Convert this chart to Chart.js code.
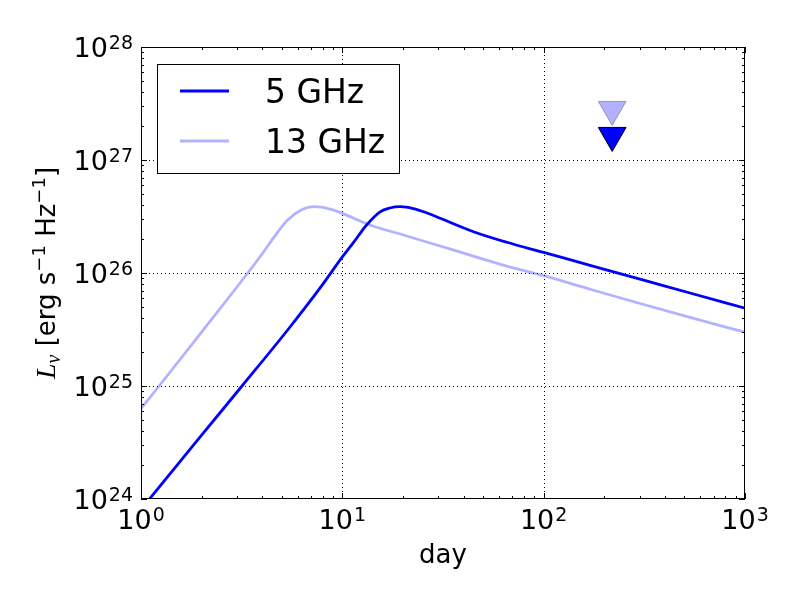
<!DOCTYPE html>
<html lang="en">
<head>
<meta charset="UTF-8">
<title>Radio light curves</title>
<script src="https://cdn.jsdelivr.net/npm/chart.js"></script>
<style>
  body { margin: 0; background: #fff; }
  canvas { display: block; }
</style>
</head>
<body>
<canvas id="lcChart" width="800" height="600"></canvas>
<script>
// light curve values (day, erg/s/Hz)
const days5 = [1, 2, 3.16, 5.35, 7.84, 10, 11.35, 13.2, 15.4, 17.2, 19.4, 22.5, 26, 30.6, 44.8, 65.6, 100, 170, 301, 533, 1000];
const lum5 = [8.1e23, 3.67e24, 9.9e24, 3.13e25, 7.57e25, 1.39e26, 1.86e26, 2.66e26, 3.48e26, 3.76e26, 3.86e26, 3.72e26, 3.43e26, 3.05e26, 2.32e26, 1.87e26, 1.52e26, 1.17e26, 8.83e25, 6.65e25, 4.88e25];

const days13 = [1, 1.23, 2, 3.39, 4, 4.59, 5.35, 6.24, 7.26, 8.69, 10, 13.7, 20.1, 29.4, 43.1, 65.6, 100, 170, 301, 533, 1000];
const lum13 = [6.3e24, 1.0e25, 3.0e25, 1.0e26, 1.48e26, 2.09e26, 2.94e26, 3.61e26, 3.86e26, 3.68e26, 3.37e26, 2.66e26, 2.17e26, 1.77e26, 1.44e26, 1.15e26, 9.46e25, 7.18e25, 5.37e25, 4.05e25, 2.99e25];

// upper limits
const limitDays = [219];
const limit5 = [1.65e27];
const limit13 = [2.8e27];

const seriesNames = ['5 GHz', '13 GHz'];
const xTickExps = [0, 1, 2, 3];
const yTickExps = [24, 25, 26, 27, 28];

const DARK = '#0000ff';
const LIGHT = 'rgba(0,0,255,0.3)';
const SANS = '"DejaVu Sans"';
const SERIF = '"Liberation Serif"';

function pts(xs, ys) {
    return xs.map((d, i) => ({ x: d, y: ys[i] }));
}

// "10" with a raised exponent
function powLabel(ctx, exp, x, y, align) {
    ctx.font = '27px ' + SANS;
    const wb = ctx.measureText('10').width;
    ctx.font = '19px ' + SANS;
    const ws = ctx.measureText(String(exp)).width;
    const w = wb + 1 + ws;
    const left = align === 'center' ? x - w / 2 : x - w;
    ctx.font = '27px ' + SANS;
    ctx.fillText('10', left, y);
    ctx.font = '19px ' + SANS;
    ctx.fillText(String(exp), left + wb + 1, y - 8);
}

function drawRuns(ctx, runs, cx, cy) {
    let total = 0;
    runs.forEach(r => { ctx.font = r.font; r.w = ctx.measureText(r.t).width; total += r.w; });
    let px = cx - total / 2;
    runs.forEach(r => {
        ctx.font = r.font;
        ctx.fillText(r.t, px, cy + (r.dy || 0));
        px += r.w;
    });
}

const decor = {
    id: 'decor',
    beforeDatasetsDraw(chart) {
        const { ctx, chartArea: a, scales: { x, y } } = chart;
        ctx.save();
        ctx.strokeStyle = '#000';
        ctx.lineWidth = 1;
        ctx.setLineDash([1, 3]);
        xTickExps.slice(1, -1).forEach(e => {
            const px = Math.round(x.getPixelForValue(Math.pow(10, e))) + 0.5;
            ctx.beginPath(); ctx.moveTo(px, a.top); ctx.lineTo(px, a.bottom); ctx.stroke();
        });
        yTickExps.slice(1, -1).forEach(e => {
            const py = Math.round(y.getPixelForValue(Math.pow(10, e))) + 0.5;
            ctx.beginPath(); ctx.moveTo(a.left, py); ctx.lineTo(a.right, py); ctx.stroke();
        });
        ctx.restore();
    },
    afterDatasetsDraw(chart) {
        const { ctx, chartArea: a, scales: { x, y } } = chart;
        ctx.save();
        ctx.strokeStyle = '#000';
        ctx.fillStyle = '#000';
        ctx.lineWidth = 1;

        // tick marks, inward, all four sides
        const tick = (px, len, vertical) => {
            ctx.beginPath();
            if (vertical) {
                ctx.moveTo(px, a.bottom); ctx.lineTo(px, a.bottom - len);
                ctx.moveTo(px, a.top); ctx.lineTo(px, a.top + len);
            } else {
                ctx.moveTo(a.left, px); ctx.lineTo(a.left + len, px);
                ctx.moveTo(a.right, px); ctx.lineTo(a.right - len, px);
            }
            ctx.stroke();
        };
        xTickExps.forEach((e, i) => {
            tick(Math.round(x.getPixelForValue(Math.pow(10, e))) + 0.5, 6, true);
            if (i < xTickExps.length - 1) {
                for (let k = 2; k < 10; k++) tick(Math.round(x.getPixelForValue(k * Math.pow(10, e))) + 0.5, 3, true);
            }
        });
        yTickExps.forEach((e, i) => {
            tick(Math.round(y.getPixelForValue(Math.pow(10, e))) + 0.5, 6, false);
            if (i < yTickExps.length - 1) {
                for (let k = 2; k < 10; k++) tick(Math.round(y.getPixelForValue(k * Math.pow(10, e))) + 0.5, 3, false);
            }
        });

        // frame
        ctx.strokeRect(a.left + 0.5, a.top + 0.5, a.right - a.left - 1, a.bottom - a.top - 1);

        // tick labels
        ctx.textBaseline = 'alphabetic';
        ctx.textAlign = 'left';
        xTickExps.forEach(e => powLabel(ctx, e, x.getPixelForValue(Math.pow(10, e)), a.bottom + 30, 'center'));
        yTickExps.forEach(e => powLabel(ctx, e, a.left - 8, y.getPixelForValue(Math.pow(10, e)) + 9.5, 'right'));

        // axis titles
        ctx.font = '26px ' + SANS;
        ctx.textAlign = 'center';
        ctx.fillText('day', (a.left + a.right) / 2, 563);
        ctx.textAlign = 'left';

        ctx.save();
        ctx.translate(55, (a.top + a.bottom) / 2);
        ctx.rotate(-Math.PI / 2);
        drawRuns(ctx, [
            { t: 'L', font: 'italic 28px ' + SERIF },
            { t: 'ν', font: 'italic 20px ' + SERIF, dy: 5 },
            { t: ' [erg s', font: '26px ' + SANS },
            { t: '−1', font: '18px ' + SANS, dy: -10 },
            { t: ' Hz', font: '26px ' + SANS },
            { t: '−1', font: '18px ' + SANS, dy: -10 },
            { t: ']', font: '26px ' + SANS }
        ], 0, 0);
        ctx.restore();

        // legend
        ctx.fillStyle = '#fff';
        ctx.fillRect(157.5, 64.5, 242, 109);
        ctx.strokeStyle = '#000';
        ctx.strokeRect(157.5, 64.5, 242, 109);
        const lineCols = [DARK, LIGHT];
        seriesNames.forEach((name, i) => {
            const ly = 91 + i * 50;
            ctx.strokeStyle = lineCols[i];
            ctx.lineWidth = 2.8;
            ctx.beginPath(); ctx.moveTo(180, ly); ctx.lineTo(229, ly); ctx.stroke();
            ctx.fillStyle = '#000';
            ctx.font = '33px ' + SANS;
            ctx.fillText(name, 265, ly + 11.5);
        });
        ctx.restore();
    }
};

new Chart(document.getElementById('lcChart'), {
    type: 'line',
    data: {
        datasets: [
            {
                label: '5 GHz limit',
                data: pts(limitDays, limit5),
                showLine: false,
                pointStyle: 'triangle',
                rotation: 180,
                pointRadius: 16,
                backgroundColor: DARK,
                borderColor: '#000',
                borderWidth: 1
            },
            {
                label: '13 GHz limit',
                data: pts(limitDays, limit13),
                showLine: false,
                pointStyle: 'triangle',
                rotation: 180,
                pointRadius: 16,
                backgroundColor: LIGHT,
                borderColor: 'rgba(0,0,0,0.3)',
                borderWidth: 1
            },
            {
                label: seriesNames[1],
                data: pts(days13, lum13),
                borderColor: LIGHT,
                borderWidth: 2.8,
                pointRadius: 0,
                fill: false,
                cubicInterpolationMode: 'monotone'
            },
            {
                label: seriesNames[0],
                data: pts(days5, lum5),
                borderColor: DARK,
                borderWidth: 2.8,
                pointRadius: 0,
                fill: false,
                cubicInterpolationMode: 'monotone'
            }
        ]
    },
    options: {
        responsive: false,
        devicePixelRatio: 1,
        animation: false,
        layout: { padding: { left: 141, right: 55, top: 47, bottom: 101 } },
        scales: {
            x: { type: 'logarithmic', min: 1, max: 1000, display: false },
            y: { type: 'logarithmic', min: 1e24, max: 1e28, display: false }
        },
        plugins: {
            legend: { display: false },
            tooltip: { enabled: false }
        }
    },
    plugins: [decor]
});
</script>
</body>
</html>
